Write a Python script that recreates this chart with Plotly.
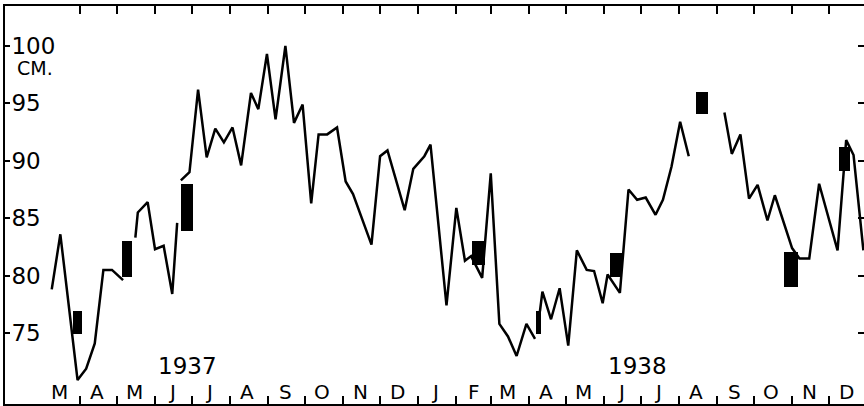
import plotly.graph_objects as go

# ---- data ----
line_dates = [
    "1937-03-09", "1937-03-16", "1937-03-30", "1937-04-06", "1937-04-13", "1937-04-20",
    "1937-04-27", "1937-05-06", "1937-05-11",
    "1937-05-16", "1937-05-18", "1937-05-26", "1937-06-01", "1937-06-08", "1937-06-15",
    "1937-06-19", "1937-06-20",
    "1937-06-22", "1937-06-29", "1937-07-06", "1937-07-13", "1937-07-20", "1937-07-27",
    "1937-08-03", "1937-08-10", "1937-08-18", "1937-08-24", "1937-08-31", "1937-09-07",
    "1937-09-15", "1937-09-22", "1937-09-29", "1937-10-06", "1937-10-12", "1937-10-19",
    "1937-10-27", "1937-11-03", "1937-11-09", "1937-11-24", "1937-12-01", "1937-12-07",
    "1937-12-21", "1937-12-28", "1938-01-06", "1938-01-11", "1938-01-24", "1938-02-01",
    "1938-02-08", "1938-02-13", "1938-02-22", "1938-03-01", "1938-03-08", "1938-03-15",
    "1938-03-22", "1938-03-30", "1938-04-06", "1938-04-08",
    "1938-04-10", "1938-04-12", "1938-04-19", "1938-04-26", "1938-05-03", "1938-05-10",
    "1938-05-18", "1938-05-24", "1938-05-31", "1938-06-04", "1938-06-14", "1938-06-21",
    "1938-06-28", "1938-07-05", "1938-07-13", "1938-07-19", "1938-07-26", "1938-08-02",
    "1938-08-09", "1938-08-20",
    "1938-09-07", "1938-09-13", "1938-09-20", "1938-09-27", "1938-10-04", "1938-10-12",
    "1938-10-18", "1938-11-01", "1938-11-07", "1938-11-15", "1938-11-23", "1938-12-08",
    "1938-12-15", "1938-12-21", "1938-12-29",
]
line_values = [
    78.8, 83.6, 70.9, 71.9, 74.1, 80.5,
    80.5, 79.6, None,
    83.3, 85.5, 86.4, 82.3, 82.6, 78.4,
    84.6, None,
    88.3, 89.0, 96.2, 90.3, 92.8, 91.6,
    92.9, 89.6, 95.9, 94.5, 99.3, 93.6,
    100.0, 93.3, 94.9, 86.3, 92.3, 92.3,
    92.9, 88.2, 87.1, 82.7, 90.4, 90.9,
    85.7, 89.3, 90.4, 91.4, 77.4, 85.9,
    81.3, 81.7, 79.8, 88.9, 75.8, 74.7,
    73.0, 75.8, 74.5, None,
    76.9, 78.6, 76.2, 78.9, 73.9, 82.2,
    80.5, 80.4, 77.6, 80.1, 78.5, 87.5,
    86.6, 86.8, 85.3, 86.6, 89.5, 93.4,
    90.4, None,
    94.2, 90.6, 92.3, 86.7, 87.9, 84.8,
    87.0, 82.4, 81.5, 81.5, 88.0, 82.2,
    91.8, 90.5, 82.2,
]

bar_dates = ["1937-03-30", "1937-05-09", "1937-06-27", "1938-02-19", "1938-04-09",
             "1938-06-11", "1938-08-20", "1938-10-31", "1938-12-14"]
bar_low = [74.9, 79.85, 83.9, 80.9, 74.9, 79.9, 94.05, 79.0, 89.1]
bar_high = [76.9, 83.0, 88.0, 83.0, 76.9, 82.0, 96.0, 82.1, 91.2]
bar_width_days = [8, 8, 10, 10.5, 4, 10, 10, 11.5, 9]

month_mid = ["1937-03-15", "1937-04-15", "1937-05-15", "1937-06-15", "1937-07-15",
             "1937-08-15", "1937-09-15", "1937-10-15", "1937-11-15", "1937-12-15",
             "1938-01-15", "1938-02-15", "1938-03-15", "1938-04-15", "1938-05-15",
             "1938-06-15", "1938-07-15", "1938-08-15", "1938-09-15", "1938-10-15",
             "1938-11-15", "1938-12-15"]
month_labels = ["M", "A", "M", "J", "J", "A", "S", "O", "N", "D", "J", "F",
                "M", "A", "M", "J", "J", "A", "S", "O", "N", "D"]
y_ticks = [75, 80, 85, 90, 95, 100]
y_ticktext = ["75", "80", "85", "90", "95", "100"]
year_labels = ["1937", "1938"]
year_label_dates = ["1937-06-27", "1938-06-28"]

FONT = "DejaVu Sans"
DAY_MS = 86400000
Y_RANGE = [68.82, 103.48]

fig = go.Figure()
fig.add_trace(go.Bar(
    x=bar_dates,
    y=[h - l for h, l in zip(bar_high, bar_low)],
    base=bar_low,
    width=[w * DAY_MS for w in bar_width_days],
    marker=dict(color="black", line=dict(width=0)),
    showlegend=False,
))
fig.add_trace(go.Scatter(
    x=line_dates, y=line_values, mode="lines",
    line=dict(color="black", width=2.5),
    connectgaps=False, showlegend=False,
))

# month letters, centred in each month, just above the bottom frame
for d, m in zip(month_mid, month_labels):
    fig.add_annotation(x=d, y=0, xref="x", yref="paper", text=m, showarrow=False,
                       yanchor="middle", yshift=12,
                       font=dict(family=FONT, size=20, color="black"))

for txt, d in zip(year_labels, year_label_dates):
    fig.add_annotation(x=d, y=72.1, xref="x", yref="y", text=txt, showarrow=False,
                       font=dict(family=FONT, size=23, color="black"))
fig.add_annotation(x=0.0116, y=98.1, xref="paper", yref="y", xanchor="left",
                   text="CM.", showarrow=False,
                   font=dict(family=FONT, size=19, color="black"))

fig.update_layout(
    width=864, height=406,
    margin=dict(l=5, r=0, t=6, b=2, autoexpand=False),
    paper_bgcolor="white", plot_bgcolor="white",
    bargap=0,
    xaxis=dict(
        type="date",
        range=["1937-01-30", "1938-12-29 12:00"],
        tickmode="linear", tick0="1937-03-01", dtick="M1",
        ticks="inside", ticklen=8, tickwidth=2, tickcolor="black",
        showticklabels=False,
        showline=True, linecolor="black", linewidth=2, mirror="ticks",
        showgrid=False, zeroline=False, automargin=False,
    ),
    yaxis=dict(
        range=Y_RANGE,
        tickmode="array", tickvals=y_ticks, ticktext=y_ticktext,
        ticks="inside", ticklen=5, tickwidth=2, tickcolor="black",
        ticklabelposition="inside", ticklabelstandoff=3,
        tickfont=dict(family=FONT, size=23, color="black"),
        showline=True, linecolor="black", linewidth=2, mirror=False,
        showgrid=False, zeroline=False, automargin=False,
    ),
    yaxis2=dict(
        overlaying="y", side="right", range=Y_RANGE,
        tickmode="array", tickvals=y_ticks,
        ticks="inside", ticklen=6, tickwidth=2, tickcolor="black",
        showticklabels=False, showline=False,
        showgrid=False, zeroline=False, automargin=False,
    ),
)
# an invisible trace to activate the right-hand tick axis
fig.add_trace(go.Scatter(x=[line_dates[0]], y=[y_ticks[0]], yaxis="y2", mode="markers",
                         marker=dict(opacity=0), hoverinfo="skip", showlegend=False))

fig.write_html(
    "out.html",
    config={"displayModeBar": False},
    post_script="document.body.style.margin='0';document.body.style.overflow='hidden';",
)
